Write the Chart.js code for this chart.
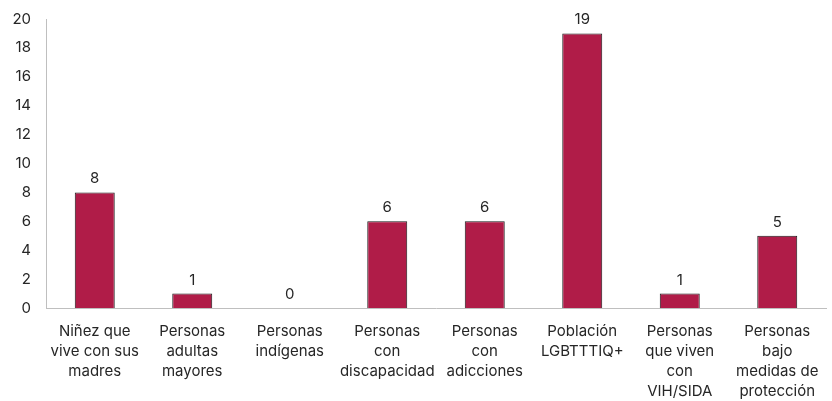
<!DOCTYPE html>
<html>
<head>
<meta charset="utf-8">
<script src="https://cdn.jsdelivr.net/npm/chart.js@4"></script>
<style>
  html, body { margin: 0; padding: 0; background: #ffffff; }
  #c { display: block; }
</style>
</head>
<body>
<canvas id="c" width="832" height="401"></canvas>
<script>
const categories = [
  ["Niñez que", "vive con sus", "madres"],
  ["Personas", "adultas", "mayores"],
  ["Personas", "indígenas"],
  ["Personas", "con", "discapacidad"],
  ["Personas", "con", "adicciones"],
  ["Población", "LGBTTTIQ+"],
  ["Personas", "que viven", "con", "VIH/SIDA"],
  ["Personas", "bajo", "medidas de", "protección"]
];
const values = [8, 1, 0, 6, 6, 19, 1, 5];
const yTicks = [0, 2, 4, 6, 8, 10, 12, 14, 16, 18, 20];

const FONT = "Inter, 'Noto Sans', sans-serif";

// Writes each bar's value just above it
const valueLabels = {
  id: 'valueLabels',
  afterDatasetsDraw(chart) {
    const ctx = chart.ctx;
    const meta = chart.getDatasetMeta(0);
    ctx.save();
    ctx.font = "15px " + FONT;
    ctx.fillStyle = "#262626";
    ctx.textAlign = "center";
    ctx.textBaseline = "bottom";
    meta.data.forEach((bar, i) => {
      ctx.fillText(String(values[i]), bar.x, bar.y - 6);
    });
    ctx.restore();
  }
};

new Chart(document.getElementById('c'), {
  type: 'bar',
  data: {
    labels: categories,
    datasets: [{
      data: values,
      backgroundColor: '#B01C48',
      borderColor: '#1a1a1a',
      borderWidth: 1,
      categoryPercentage: 1,
      barPercentage: 0.41
    }]
  },
  options: {
    responsive: false,
    animation: false,
    layout: { padding: { top: 19, right: 6, left: 0, bottom: 0 } },
    plugins: { legend: { display: false }, tooltip: { enabled: false } },
    scales: {
      y: {
        min: 0, max: 20,
        afterBuildTicks(axis) { axis.ticks = yTicks.map(v => ({ value: v })); },
        afterFit(axis) {
          axis.width = 46;
          axis.paddingTop = 0;
          axis.paddingBottom = 0;
        },
        grid: { display: false, drawTicks: false },
        border: { display: true, color: '#bfbfbf', width: 1 },
        ticks: { padding: 15, color: '#262626', font: { family: FONT, size: 15 } }
      },
      x: {
        afterFit(axis) { axis.height = 93; },
        grid: { display: false, drawTicks: false },
        border: { display: true, color: '#bfbfbf', width: 1 },
        ticks: {
          padding: 13, color: '#262626', maxRotation: 0, autoSkip: false,
          font: { family: FONT, size: 15, lineHeight: 1.34 }
        }
      }
    }
  },
  plugins: [valueLabels]
});
</script>
</body>
</html>
